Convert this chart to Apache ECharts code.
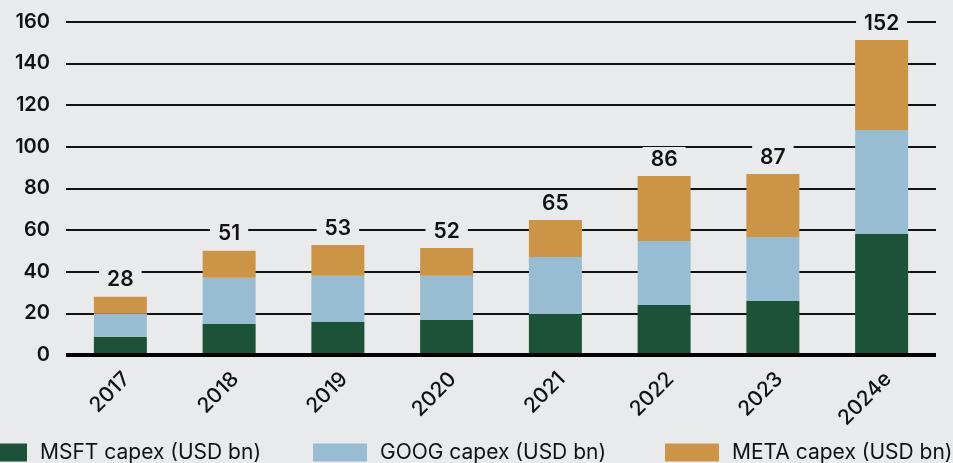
<!DOCTYPE html>
<html>
<head>
<meta charset="utf-8">
<script src="https://cdn.jsdelivr.net/npm/echarts@6/dist/echarts.min.js"></script>
<style>
html,body{margin:0;padding:0;background:#e9eaec;}
#chart{width:953px;height:463px;}
</style>
</head>
<body>
<div id="chart"></div>
<script>
const categories = ['2017','2018','2019','2020','2021','2022','2023','2024e'];
const msft = [8.8, 14.9, 15.8, 16.8, 19.7, 24.0, 25.9, 58.1];
const goog = [11.0, 22.2, 22.3, 21.3, 27.3, 30.7, 30.7, 49.9];
const meta = [8.2, 13.0, 14.7, 13.3, 17.8, 31.2, 30.3, 43.2];
const totals = [28, 51, 53, 52, 65, 86, 87, 152];
const yTicks = [0, 20, 40, 60, 80, 100, 120, 140, 160];

const BG = '#e9eaec';
const FONT = 'Inter, "Noto Sans", sans-serif';
const names = ['MSFT capex (USD bn)', 'GOOG capex (USD bn)', 'META capex (USD bn)'];
const colors = ['#1c5338', '#98bdd3', '#cc9446'];

const chart = echarts.init(document.getElementById('chart'));
const legendLefts = [-27, 313, 665];
chart.setOption({
  backgroundColor: BG,
  animation: false,
  grid: {left: 66, right: 17, top: 21.7, bottom: 108, containLabel: false},
  legend: names.map((n, i) => ({
    data: [n], left: legendLefts[i], top: 442, itemWidth: 54, itemHeight: 18,
    icon: 'rect', itemGap: 0, padding: 0,
    formatter: s => '{a|' + s + '}',
    textStyle: {fontFamily: FONT, fontSize: 21, color: '#111', lineHeight: 18,
      rich: {a: {fontFamily: FONT, fontSize: 21, color: '#111', lineHeight: 18, padding: [0, 0, 0, 8]}}}
  })),
  xAxis: {
    type: 'category', data: categories,
    axisLine: {show: false}, axisTick: {show: false},
    axisLabel: {rotate: 45, fontFamily: FONT, fontSize: 21, fontWeight: 500, color: '#111',
      margin: 27, interval: 0, padding: [0, -9, 0, 0]}
  },
  yAxis: {
    type: 'value', min: yTicks[0], max: yTicks[yTicks.length - 1], interval: 20,
    axisLine: {show: false}, axisTick: {show: false},
    axisLabel: {fontFamily: FONT, fontSize: 20, fontWeight: 600, color: '#111', margin: 16},
    splitLine: {lineStyle: {color: '#111', width: 2}}
  },
  series: [
    {name: names[0], type: 'bar', stack: 'capex', data: msft, barWidth: 53, itemStyle: {color: colors[0]}},
    {name: names[1], type: 'bar', stack: 'capex', data: goog, barWidth: 53, itemStyle: {color: colors[1]}},
    {name: names[2], type: 'bar', stack: 'capex', data: meta, barWidth: 53, itemStyle: {color: colors[2]},
      label: {show: true, position: 'top', distance: 4, formatter: p => String(totals[p.dataIndex]),
        fontFamily: FONT, fontSize: 21, fontWeight: 600, color: '#111',
        backgroundColor: BG, padding: [2, 8, 2, 8]}},
    {type: 'line', data: [], markLine: {silent: true, symbol: 'none', label: {show: false},
      lineStyle: {color: '#000', width: 4, type: 'solid'}, data: [{yAxis: 0}]}, z: 1}
  ]
});
</script>
</body>
</html>
